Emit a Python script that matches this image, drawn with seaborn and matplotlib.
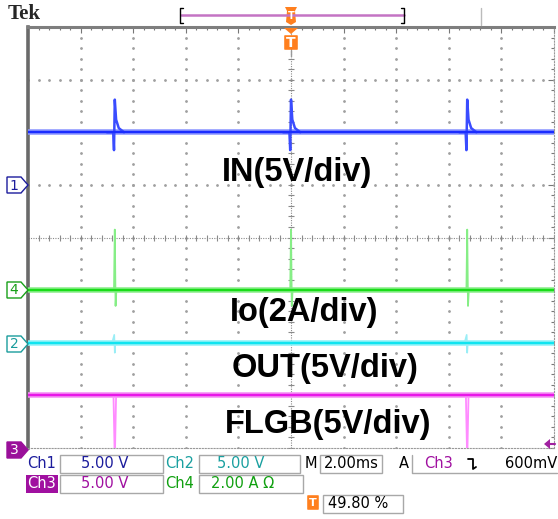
import matplotlib
matplotlib.use("Agg")
import matplotlib.pyplot as plt
import seaborn as sns
from matplotlib.patches import Polygon, Rectangle, FancyBboxPatch

# =========================
# 1. Scope settings and trace values
# =========================
time_span_ms = [-10.0, 10.0]            # 2.00 ms/div over 10 divisions
channels = ["Ch1", "Ch2", "Ch3", "Ch4"]
units_per_div = [5.0, 5.0, 5.0, 2.0]    # V/div, Ch4 in A/div
ground_div = [1.0, -2.0, -4.0, -1.0]    # channel markers, divisions from centre
levels = [5.0, 0.0, 5.0, 0.0]           # steady values

ch1_spike_at = [-6.7, 0.0, 6.7]
ch1_spike_dt = [-0.3, -0.06, -0.03, 0.0, 0.05, 0.15, 0.35]
ch1_spike_val = [5.0, 5.0, 3.3, 8.1, 6.2, 5.4, 5.0]

ch2_spike_at = [-6.7, 6.7]
ch2_spike_dt = [-0.1, -0.02, 0.0, 0.02, 0.1]
ch2_spike_val = [0.0, 0.75, -0.95, 0.0, 0.0]

ch3_spike_at = [-6.7, 6.7]
ch3_spike_dt = [-0.05, -0.01, 0.01, 0.05]
ch3_spike_val = [5.0, 0.0, 0.0, 5.0]

ch4_spike_at = [-6.7, 0.0, 6.7]
ch4_spike_dt = [-0.3, -0.03, 0.0, 0.03, 0.06, 0.3]
ch4_spike_val = [0.0, 0.0, 2.3, -0.6, 0.0, 0.0]

labels = ["IN(5V/div)", "Io(2A/div)", "OUT(5V/div)", "FLGB(5V/div)"]

core_colors = ["#1a2cff", "#10e4f0", "#e818e8", "#18dd18"]
halo_colors = ["#8c96ff", "#90f2f8", "#f490f4", "#8cee8c"]
spike_colors = ["#3a4cff", "#9aeef6", "#ff8cff", "#86ee86"]
spike_widths = [1.8, 1.2, 1.3, 1.3]

spikes = {
    "Ch1": (ch1_spike_at, ch1_spike_dt, ch1_spike_val),
    "Ch2": (ch2_spike_at, ch2_spike_dt, ch2_spike_val),
    "Ch3": (ch3_spike_at, ch3_spike_dt, ch3_spike_val),
    "Ch4": (ch4_spike_at, ch4_spike_dt, ch4_spike_val),
}

# =========================
# 2. Figure / graticule
# =========================
sns.set_style("white")
plt.rcParams['font.family'] = ['DejaVu Sans']

W, H = 558, 519
fig = plt.figure(figsize=(W / 100, H / 100), dpi=100)
ax = fig.add_axes([28 / W, (H - 448) / H, 526 / W, 421 / H])
ax.set_xlim(time_span_ms)
ax.set_ylim(-4, 4)

# grid dots every 0.2 div on each division line
grid_col = "#a0a0a0"
minor_x = [-10 + 0.4 * i for i in range(51)]
minor_y = [-4 + 0.2 * i for i in range(41)]
for k in [-3, -2, -1, 1, 2, 3]:
    ax.plot(minor_x, [k] * len(minor_x), ls="none", marker="o", ms=1.0,
            color=grid_col, zorder=1)
for k in [-8, -6, -4, -2, 2, 4, 6, 8]:
    ax.plot([k] * len(minor_y), minor_y, ls="none", marker="o", ms=1.0,
            color=grid_col, zorder=1)

# centre cross with small ticks
ax.axhline(0, color="#8a8a8a", lw=0.8, ls=(0, (1, 1.2)), zorder=1)
ax.axvline(0, color="#8a8a8a", lw=0.8, ls=(0, (1, 1.2)), zorder=1)
ax.plot(minor_x, [0] * len(minor_x), ls="none", marker="|", ms=4.5,
        mew=0.8, color="#8a8a8a", zorder=1)
ax.plot([0] * len(minor_y), minor_y, ls="none", marker="_", ms=4.5,
        mew=0.8, color="#8a8a8a", zorder=1)

ax.set_xticks(range(-10, 11, 2))
ax.set_xticks(minor_x, minor=True)
ax.set_yticks(range(-4, 5))
ax.set_yticks(minor_y, minor=True)
ax.tick_params(which="both", direction="in", top=True, right=True,
               labelbottom=False, labelleft=False, color="#777777", width=0.8)
ax.tick_params(which="major", length=4)
ax.tick_params(which="minor", length=2)
ax.spines["left"].set(color="#6a6a6a", lw=2.6)
ax.spines["top"].set(color="#7e7e7e", lw=2.2)
for s in ["right", "bottom"]:
    ax.spines[s].set(color="#999999", lw=0.8, ls=":")

# =========================
# 3. Traces
# =========================
for i, ch in enumerate(channels):
    to_div = lambda v, i=i: v / units_per_div[i] + ground_div[i]
    base_y = [to_div(levels[i])] * 2
    sns.lineplot(x=time_span_ms, y=base_y, ax=ax, color=halo_colors[i],
                 lw=4.0, zorder=3)
    at, dt, val = spikes[ch]
    for t0 in at:
        sns.lineplot(x=[t0 + d for d in dt], y=[to_div(v) for v in val],
                     ax=ax, color=spike_colors[i], lw=spike_widths[i],
                     sort=False, estimator=None, zorder=3.5)
    sns.lineplot(x=time_span_ms, y=base_y, ax=ax, color=core_colors[i],
                 lw=1.7, zorder=4)
ax.set_xlabel("")
ax.set_ylabel("")

# =========================
# 4. Screen decorations (pixel coordinates)
# =========================
ov = fig.add_axes([0, 0, 1, 1], zorder=10)
ov.set_xlim(0, W)
ov.set_ylim(H, 0)
ov.axis("off")

# large channel captions
big = dict(family="Liberation Sans", weight="bold", fontsize=23.5,
           color="black", va="center", ha="left")
ov.text(222, 173, labels[0], **big)
ov.text(230, 312, labels[1], **big)
ov.text(232, 369, labels[2], **big)
ov.text(225, 425, labels[3], **big)

# channel markers on the left edge
def ch_marker(y, num, edge, face, txt):
    pts = [(7, y - 8), (21, y - 8), (28, y), (21, y + 8), (7, y + 8)]
    ov.add_patch(Polygon(pts, closed=True, fc=face, ec=edge, lw=1.0))
    ov.text(14, y + 0.5, num, color=txt, fontsize=10, ha="center",
            va="center")

ch_marker(185, "1", "#1c1c9c", "white", "#1c1c9c")
ch_marker(290, "4", "#18a018", "white", "#18a018")
ch_marker(344, "2", "#1a9c9c", "white", "#1a9c9c")
ch_marker(450, "3", "#9a109a", "#9a109a", "white")

# top bar
ov.text(8, 14, "Tek", family="Liberation Serif", weight="bold", fontsize=15,
        va="center", ha="left")
ov.plot([181, 404], [15, 15], color="#c474c4", lw=1.8)
ov.plot([183, 180, 180, 183], [8, 8, 23, 23], color="black", lw=1.0)
ov.plot([401, 404, 404, 401], [8, 8, 23, 23], color="black", lw=1.0)
ov.plot([481, 481], [8, 25], color="#bbbbbb", lw=1.0)
orange = "#ff7f1e"
ov.add_patch(Polygon([(285, 7), (297, 7), (295, 11), (296, 22), (291, 25),
                      (286, 22), (287, 11)], closed=True, fc=orange, ec="none"))
ov.text(291, 16, "T", color="white", weight="bold", fontsize=7, ha="center",
        va="center")
ov.add_patch(Polygon([(284, 28), (298, 28), (291, 34)], closed=True,
                     fc=orange, ec="none"))
ov.add_patch(FancyBboxPatch((285, 36), 12, 13, boxstyle="round,pad=0.8",
                            fc=orange, ec="none"))
ov.text(291, 43, "T", color="white", weight="bold", fontsize=10, ha="center",
        va="center")
ov.plot([291, 291], [50, 56], color="#999999", lw=1.0)

# trigger level arrow on the right
ov.add_patch(Polygon([(544, 444), (550, 439), (550, 449)], closed=True,
                     fc="#a020a0", ec="none"))
ov.plot([548, 555], [444, 444], color="#a020a0", lw=1.5)

# status bar
navy, teal, purple, green = "#1c1c9c", "#1aa0a0", "#a010a0", "#10a010"
st = dict(fontsize=10.5, va="center")
box = dict(fill=True, fc="white", ec="#a8a8a8", lw=1.0)

ov.text(27, 464, "Ch1", color=navy, ha="left", **st)
ov.add_patch(Rectangle((60, 455), 103, 18, **box))
ov.text(105, 464, "5.00 V", color=navy, ha="center", **st)
ov.text(165, 464, "Ch2", color=teal, ha="left", **st)
ov.add_patch(Rectangle((199, 455), 101, 18, **box))
ov.text(241, 464, "5.00 V", color=teal, ha="center", **st)
ov.text(305, 464, "M", color="black", ha="left", **st)
ov.add_patch(Rectangle((320, 455), 62, 18, **box))
ov.text(351, 464, "2.00ms", color="black", ha="center", **st)
ov.text(399, 464, "A", color="black", ha="left", **st)
ov.plot([412, 412, 557], [455, 473, 473], color="#a8a8a8", lw=1.0)
ov.text(424, 464, "Ch3", color=purple, ha="left", **st)
ov.plot([468, 473, 473, 476], [459, 459, 469, 467], color="black", lw=1.3)
ov.text(557, 464, "600mV", color="black", ha="right", **st)

ov.add_patch(Rectangle((26, 475), 32, 18, fc=purple, ec="none"))
ov.text(42, 484, "Ch3", color="white", ha="center", **st)
ov.add_patch(Rectangle((60, 475), 103, 18, **box))
ov.text(105, 484, "5.00 V", color=purple, ha="center", **st)
ov.text(165, 484, "Ch4", color=green, ha="left", **st)
ov.add_patch(Rectangle((199, 475), 104, 18, **box))
ov.text(211, 484, "2.00 A Ω", color=green, ha="left", **st)

ov.add_patch(FancyBboxPatch((308, 496), 10, 13, boxstyle="round,pad=0.8",
                            fc=orange, ec="none"))
ov.text(313, 503, "T", color="white", weight="bold", fontsize=8,
        ha="center", va="center")
ov.add_patch(Rectangle((323, 495), 80, 18, **box))
ov.text(328, 504, "49.80 %", color="black", ha="left", **st)

fig.savefig("out.png", dpi=100)
